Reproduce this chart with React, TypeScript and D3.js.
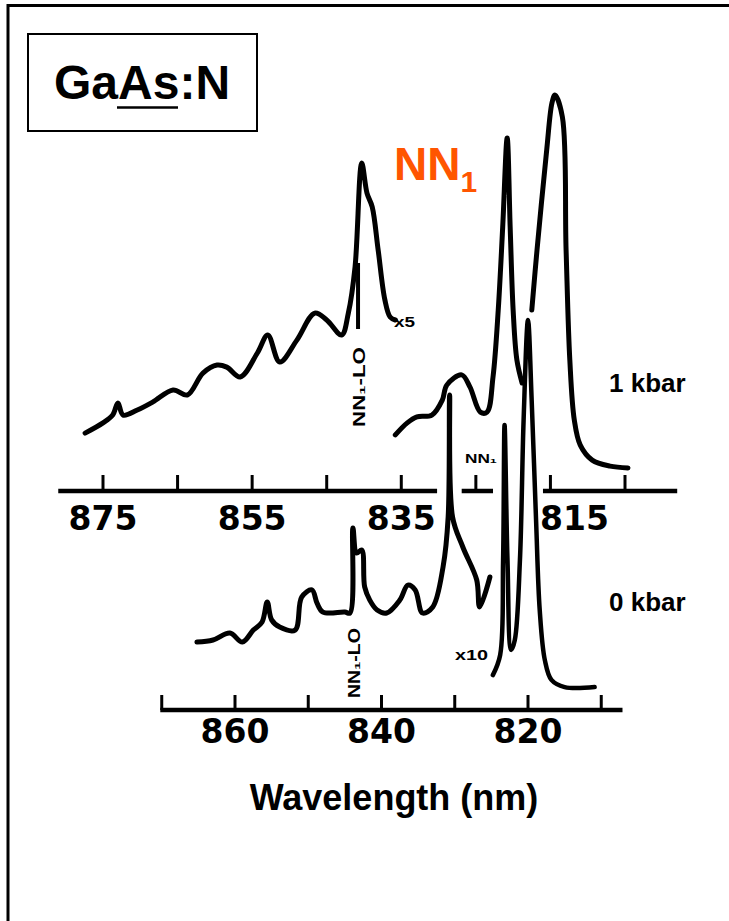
import React, { useEffect, useRef } from 'react';
import * as d3 from 'd3';

// wavelength (nm), intensity (arb. units)
const kbar1X5: [number, number][] = [
  [877.4, 12.3], [875.0, 15.7], [873.7, 18.3], [873.0, 22.3], [872.3, 18.3], [870.4, 20.0],
  [868.3, 22.7], [865.6, 26.7], [863.7, 25.0], [861.6, 32.3], [859.7, 35.0], [858.4, 34.3],
  [856.6, 31.0], [854.3, 39.0], [852.9, 45.0], [851.3, 36.0], [849.0, 43.3], [846.6, 52.3],
  [845.0, 50.0], [843.0, 45.0], [842.1, 52.3], [841.2, 67.7], [840.3, 102.3], [839.6, 92.3],
  [838.9, 87.7], [838.1, 73.3], [837.2, 56.7], [836.5, 51.0], [835.8, 50.0]
];
const kbar1Main: [number, number][] = [
  [835.8, 11.7], [834.2, 15.7], [832.9, 17.7], [830.9, 18.3], [829.5, 23.3], [828.9, 28.3],
  [826.9, 31.7], [825.8, 27.7], [824.4, 19.3], [823.5, 19.3], [822.7, 31.0], [822.0, 53.3],
  [821.4, 81.0], [820.8, 110.7], [820.4, 81.0], [820.0, 53.3], [819.5, 36.7], [818.8, 29.0]
];
const kbar1Peak2: [number, number][] = [
  [817.5, 53.3], [816.8, 73.3], [815.5, 106.7], [814.8, 122.3], [814.4, 125.0], [813.4, 117.7],
  [812.9, 73.3], [812.4, 36.7], [811.8, 16.7], [811.0, 8.3], [809.4, 3.3], [807.0, 1.3], [804.6, 0.7]
];
const kbar0X10: [number, number][] = [
  [865.2, 19.3], [863.0, 20.0], [860.7, 22.3], [859.0, 19.3], [857.5, 23.3], [856.3, 26.0],
  [855.6, 32.7], [855.0, 26.7], [853.9, 24.3], [851.8, 23.3], [850.9, 34.3], [849.5, 36.7],
  [848.8, 32.3], [848.0, 29.3], [845.0, 29.3], [844.3, 29.0], [843.9, 57.3], [843.4, 49.0],
  [842.7, 50.0], [842.3, 37.7], [841.6, 33.3], [840.6, 30.0], [839.3, 29.0], [837.5, 33.3],
  [836.4, 38.3], [835.4, 36.7], [834.4, 29.0], [833.0, 31.0], [831.6, 44.3], [830.9, 61.0],
  [830.7, 101.7], [830.3, 61.0], [828.9, 51.0], [827.0, 40.0], [826.6, 31.0], [825.2, 41.0]
];
const kbar0Main: [number, number][] = [
  [824.8, 8.3], [823.8, 15.0], [823.4, 46.7], [823.2, 91.7], [822.8, 46.7], [822.3, 16.7],
  [821.8, 20.0], [821.1, 46.7], [820.6, 93.3], [820.0, 126.7], [819.5, 100.0], [818.9, 60.0],
  [818.4, 30.0], [817.7, 13.3], [816.8, 6.7], [815.0, 4.3], [810.9, 4.3]
];

const upperTicks = [875, 865, 855, 845, 835, 825, 815, 805];
const upperLabels = [875, 855, 835, 815];
const upperAxisSegments: [number, number][] = [[881, 830.2], [826.9, 822.7], [816, 798]];
const lowerTicks = [870, 860, 850, 840, 830, 820, 810];
const lowerLabels = [860, 840, 820];
const lowerAxisExtent: [number, number] = [870.2, 807.1];

const App = () => {
  const ref = useRef<SVGSVGElement>(null);

  useEffect(() => {
    const svg = d3.select(ref.current);
    svg.selectAll('*').remove();

    const xTop = d3.scaleLinear().domain([875, 805]).range([103, 625]);
    const yTop = d3.scaleLinear().domain([0, 100]).range([470, 170]);
    const xBot = d3.scaleLinear().domain([860, 820]).range([235, 528]);
    const yBot = d3.scaleLinear().domain([0, 100]).range([700, 400]);

    // frame (only top and left visible)
    svg.append('path')
      .attr('d', 'M8,930 V5.5 H740')
      .attr('fill', 'none')
      .attr('stroke', '#000')
      .attr('stroke-width', 3);

    // title box
    svg.append('rect')
      .attr('x', 28).attr('y', 34).attr('width', 229).attr('height', 97)
      .attr('fill', 'none').attr('stroke', '#000').attr('stroke-width', 2);
    const title = svg.append('text')
      .attr('x', 54).attr('y', 99)
      .style('font-family', '"Liberation Sans", Arial, sans-serif')
      .style('font-weight', 'bold')
      .style('font-size', '48px');
    title.append('tspan').text('Ga');
    title.append('tspan').text('As');
    title.append('tspan').text(':N');
    svg.append('line')
      .attr('x1', 117).attr('x2', 178).attr('y1', 107.5).attr('y2', 107.5)
      .attr('stroke', '#000').attr('stroke-width', 2.5);

    // NN1 label
    const nn = svg.append('text')
      .attr('x', 394).attr('y', 180)
      .attr('fill', '#ff5500')
      .style('font-family', '"Liberation Sans", Arial, sans-serif')
      .style('font-weight', 'bold')
      .style('font-size', '46px');
    nn.append('tspan').text('NN');
    nn.append('tspan').attr('dy', 12).style('font-size', '30px').text('1');

    const line = (xs: d3.ScaleLinear<number, number>, ys: d3.ScaleLinear<number, number>) =>
      d3.line<[number, number]>()
        .x(d => xs(d[0]))
        .y(d => ys(d[1]))
        .curve(d3.curveCatmullRom.alpha(0.5));

    const drawSpectrum = (data: [number, number][], xs: any, ys: any, w: number) => {
      svg.append('path')
        .datum(data)
        .attr('d', line(xs, ys))
        .attr('fill', 'none')
        .attr('stroke', '#000')
        .attr('stroke-width', w)
        .attr('stroke-linejoin', 'round')
        .attr('stroke-linecap', 'round');
    };

    // upper (1 kbar) axis
    const upAxisY = 491;
    svg.append('g')
      .selectAll('line')
      .data(upperAxisSegments)
      .enter()
      .append('line')
      .attr('x1', d => xTop(d[0])).attr('x2', d => xTop(d[1]))
      .attr('y1', upAxisY).attr('y2', upAxisY)
      .attr('stroke', '#000').attr('stroke-width', 4.5);
    svg.append('g')
      .selectAll('line')
      .data(upperTicks)
      .enter()
      .append('line')
      .attr('x1', d => xTop(d)).attr('x2', d => xTop(d))
      .attr('y1', upAxisY - 16).attr('y2', upAxisY)
      .attr('stroke', '#000').attr('stroke-width', 3);
    svg.append('g')
      .selectAll('text')
      .data(upperLabels)
      .enter()
      .append('text')
      .attr('x', d => (d === 815 ? xTop(d) + 24 : xTop(d)))
      .attr('y', 530)
      .attr('text-anchor', 'middle')
      .style('font-family', '"DejaVu Sans", sans-serif')
      .style('font-weight', 'bold')
      .style('font-size', '33px')
      .text(d => d);

    // lower (0 kbar) axis
    const loAxisY = 710;
    svg.append('line')
      .attr('x1', xBot(lowerAxisExtent[0])).attr('x2', xBot(lowerAxisExtent[1]))
      .attr('y1', loAxisY).attr('y2', loAxisY)
      .attr('stroke', '#000').attr('stroke-width', 4.5);
    svg.append('g')
      .selectAll('line')
      .data(lowerTicks)
      .enter()
      .append('line')
      .attr('x1', d => xBot(d)).attr('x2', d => xBot(d))
      .attr('y1', loAxisY - 15).attr('y2', loAxisY)
      .attr('stroke', '#000').attr('stroke-width', 3);
    svg.append('g')
      .selectAll('text')
      .data(lowerLabels)
      .enter()
      .append('text')
      .attr('x', d => xBot(d))
      .attr('y', 743)
      .attr('text-anchor', 'middle')
      .style('font-family', '"DejaVu Sans", sans-serif')
      .style('font-weight', 'bold')
      .style('font-size', '33px')
      .text(d => d);

    // spectra
    drawSpectrum(kbar1X5, xTop, yTop, 5);
    drawSpectrum(kbar1Main, xTop, yTop, 5);
    drawSpectrum(kbar1Peak2, xTop, yTop, 5);
    drawSpectrum(kbar0X10, xBot, yBot, 5);
    drawSpectrum(kbar0Main, xBot, yBot, 4.5);

    // NN1-LO marker on the 1 kbar x5 trace
    svg.append('line')
      .attr('x1', xTop(840.8)).attr('x2', xTop(840.8))
      .attr('y1', yTop(69)).attr('y2', yTop(47))
      .attr('stroke', '#000').attr('stroke-width', 4);

    const small = (x: number, y: number, txt: string, size: number, len?: number, rot?: boolean) => {
      const t = svg.append('text')
        .attr('transform', rot ? `translate(${x},${y}) rotate(-90)` : `translate(${x},${y})`)
        .style('font-family', '"Liberation Sans", Arial, sans-serif')
        .style('font-weight', 'bold')
        .style('font-size', size + 'px')
        .text(txt);
      if (len) t.attr('textLength', len).attr('lengthAdjust', 'spacingAndGlyphs');
    };
    small(365, 427, 'NN₁-LO', 17, 80, true);
    small(360, 698, 'NN₁-LO', 16, 70, true);
    small(394, 327, 'x5', 15, 21);
    small(455, 660, 'x10', 15, 33);
    small(465, 463, 'NN₁', 12, 32);

    // condition labels
    const cond = (y: number, txt: string) => {
      svg.append('text')
        .attr('x', 609).attr('y', y)
        .style('font-family', '"Liberation Sans", Arial, sans-serif')
        .style('font-weight', 'bold')
        .style('font-size', '26px')
        .text(txt);
    };
    cond(392, '1 kbar');
    cond(611, '0 kbar');

    svg.append('text')
      .attr('x', 394).attr('y', 810)
      .attr('text-anchor', 'middle')
      .style('font-family', '"Liberation Sans", Arial, sans-serif')
      .style('font-weight', 'bold')
      .style('font-size', '36px')
      .text('Wavelength (nm)');
  }, []);

  return (
    <svg
      ref={ref}
      width={729}
      height={921}
      style={{ position: 'absolute', left: 0, top: 0, background: '#fff' }}
    />
  );
};

export default App;
